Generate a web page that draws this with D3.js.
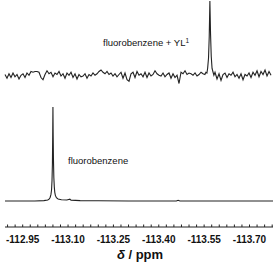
<!DOCTYPE html>
<html>
<head>
<meta charset="utf-8">
<script src="https://cdn.jsdelivr.net/npm/d3@7"></script>
<style>
  body { margin: 0; background: #fff; }
  svg { display: block; }
</style>
</head>
<body>
<div id="chart"></div>
<script>
// axis
const ppmDomain = [-112.8915, -113.7777]
const majorTicks = [-112.95, -113.10, -113.25, -113.40, -113.55, -113.70]
const minorStep = 0.025
const xTitle = "δ / ppm"

// lower trace: fluorobenzene, [ppm, intensity]
const lowerTrace = [
  [-112.8915, 0], [-112.99, 0], [-113.02, 0.4], [-113.033, 1], [-113.038, 2.2],
  [-113.041, 4], [-113.0435, 7], [-113.0455, 12], [-113.047, 22], [-113.0483, 40],
  [-113.0492, 68], [-113.050, 100], [-113.0508, 70], [-113.0517, 45], [-113.053, 25],
  [-113.0545, 15], [-113.056, 9.5], [-113.058, 6], [-113.0615, 3.5], [-113.067, 2.2],
  [-113.078, 1.4], [-113.096, 1], [-113.102, 1.6], [-113.106, 1.9], [-113.110, 0.9],
  [-113.14, 0.4], [-113.20, 0.2], [-113.30, 0], [-113.458, 0], [-113.464, 0.8],
  [-113.470, 0], [-113.65, 0], [-113.7777, 0]
]

// upper trace: fluorobenzene + YL1, noise sampled every 2 px, plus the peak
const upperStart = -112.8915
const upperStep = -0.006614
const upperNoise = [
  2, -3, 3, -2, 4, -1, 2, -4, 1, 3,
  -2, 4, 1, 6, 5, 6, 6, 5, -2, -5,
  2, 7, 3, 5, -1, 4, 2, 6, 0, 3,
  -3, 4, 1, 5, -2, 3, -4, 2, -1, 0,
  3, -3, 2, 0, 4, 1, 3, 6, 8, 5,
  3, 6, 2, 4, 0, 3, -1, 2, 5, -3,
  4, -5, -7, 3, 5, -2, 6, 1, 3, -1,
  5, -2, 4, 0, 2, 7, 3, 1, 0, 4,
  -1, 2, 4, -3, 3, -2, 1, -10, 5, 3,
  7, 2, 4, 3, 1, 4, 0, 2, 5, 3,
  3, 0, 0, 0, 0, 5, -4, 3, -6, 2,
  4, -2, 3, 1, 5, -1, 2, -3, 3, -5,
  2, 0, 4, -2, 5, 1, 7, -1, 6, 2,
  8, 0, 6, 1
]
const upperPeak = [
  [-113.5525, 2], [-113.5558, 5], [-113.5591, 4], [-113.5615, 10], [-113.5645, 24],
  [-113.5668, 52], [-113.569, 100], [-113.5712, 56], [-113.5735, 26], [-113.5762, 10],
  [-113.5789, 6], [-113.5822, 1]
]

const labelUpper = "fluorobenzene + YL"
const labelUpperSup = "1"
const labelLower = "fluorobenzene"

const width = 275, height = 262
const svg = d3.select("#chart").append("svg")
  .attr("width", width).attr("height", height)

const x = d3.scaleLinear().domain(ppmDomain).range([5, 273])
const yLow = d3.scaleLinear().domain([0, 100]).range([201, 107])
const yUp = d3.scaleLinear().domain([0, 100]).range([76, 1])

// build upper points
let upperPts = upperNoise.map((v, i) => [upperStart + i * upperStep, v])
let pLo = d3.min(upperPeak, d => d[0]), pHi = d3.max(upperPeak, d => d[0])
upperPts = upperPts.filter(d => d[0] > pHi || d[0] < pLo).concat(upperPeak)
upperPts.sort((a, b) => b[0] - a[0])

const lineLow = d3.line().x(d => x(d[0])).y(d => yLow(d[1]))
const lineUp = d3.line().x(d => x(d[0])).y(d => yUp(d[1]))

svg.append("path").datum(lowerTrace)
  .attr("d", lineLow)
  .attr("fill", "none").attr("stroke", "#222").attr("stroke-width", 1.1)

svg.append("path").datum(upperPts)
  .attr("d", lineUp)
  .attr("fill", "none").attr("stroke", "#222").attr("stroke-width", 1.1)

// axis
const axisY = 227
const minorTicks = d3.range(0, 40).map(i => -112.90 - i * minorStep)
  .filter(v => v >= ppmDomain[1] && v <= ppmDomain[0])

const ax = svg.append("g").attr("transform", `translate(0,${axisY})`)
ax.append("line").attr("x1", 5).attr("x2", 273)
  .attr("stroke", "#222").attr("stroke-width", 1)
ax.selectAll("line.minor").data(minorTicks).join("line")
  .attr("class", "minor")
  .attr("x1", d => x(d)).attr("x2", d => x(d))
  .attr("y1", 0).attr("y2", -2.5)
  .attr("stroke", "#222").attr("stroke-width", 1)
ax.selectAll("text").data(majorTicks).join("text")
  .attr("x", d => x(d)).attr("y", 16)
  .attr("text-anchor", "middle")
  .attr("font-family", "Liberation Sans, Arial, sans-serif")
  .attr("font-weight", "bold").attr("font-size", 10)
  .attr("fill", "#111")
  .text(d => d.toFixed(2))

const t = svg.append("text")
  .attr("x", 140).attr("y", 259)
  .attr("text-anchor", "middle")
  .attr("font-family", "Liberation Sans, Arial, sans-serif")
  .attr("font-weight", "bold").attr("font-size", 13)
  .attr("fill", "#111")
t.append("tspan").attr("font-style", "italic").text(xTitle.slice(0, 1))
t.append("tspan").text(xTitle.slice(1))

const tu = svg.append("text")
  .attr("x", 103).attr("y", 46)
  .attr("font-family", "Liberation Sans, Arial, sans-serif")
  .attr("font-size", 9.5).attr("fill", "#111")
  .text(labelUpper)
tu.append("tspan").attr("font-size", 6.5).attr("dy", -3.5).text(labelUpperSup)

svg.append("text")
  .attr("x", 68).attr("y", 164)
  .attr("font-family", "Liberation Sans, Arial, sans-serif")
  .attr("font-size", 9.5).attr("fill", "#111")
  .text(labelLower)
</script>
</body>
</html>
